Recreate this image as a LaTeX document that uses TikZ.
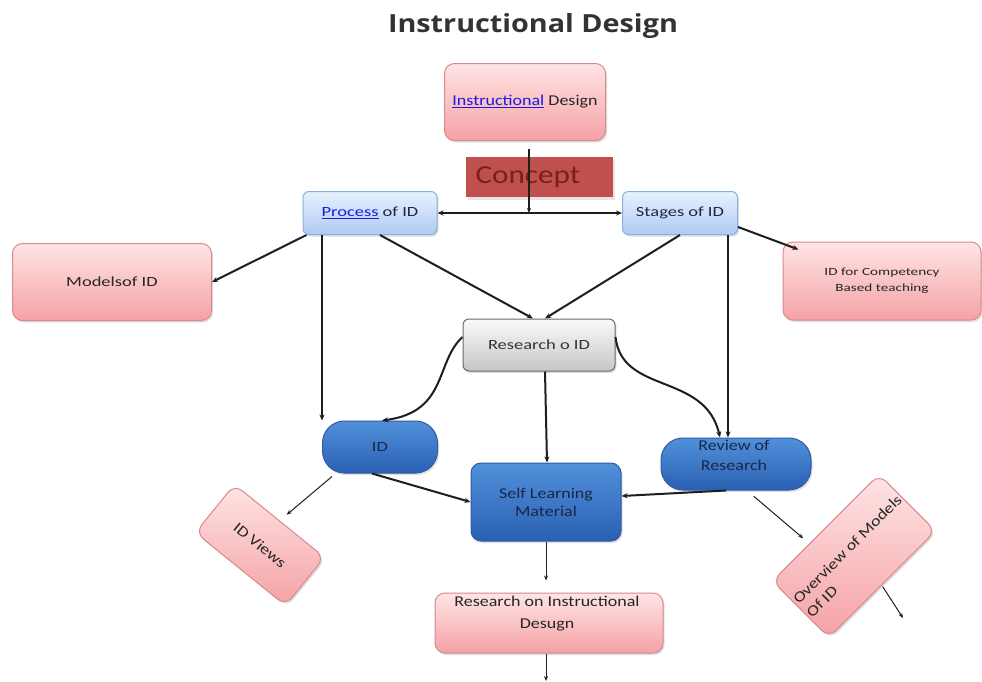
\documentclass[tikz,border=0pt]{standalone}
\usepackage{fontspec}
\setmainfont{Carlito}
\newfontfamily\titlefont[FakeStretch=1.15]{Open Sans}
\newfontfamily\wfa[FakeStretch=1.32]{Carlito}
\newfontfamily\wfb[FakeStretch=1.2]{Carlito}
\newfontfamily\wfc[FakeStretch=1.38]{Carlito}
\usetikzlibrary{arrows.meta,shadows,calc}
\definecolor{pinkT}{HTML}{FFE4E4}
\definecolor{pinkB}{HTML}{F4A2A6}
\definecolor{pinkD}{HTML}{D98A8D}
\definecolor{lbT}{HTML}{E8F1FF}
\definecolor{lbB}{HTML}{AECBF3}
\definecolor{lbD}{HTML}{8CAEDF}
\definecolor{dbT}{HTML}{5190DA}
\definecolor{dbB}{HTML}{2A60B2}
\definecolor{dbD}{HTML}{2B5CA6}
\definecolor{grT}{HTML}{FAFAFA}
\definecolor{grB}{HTML}{C6C6C6}
\definecolor{grD}{HTML}{6A6A6A}
\definecolor{conceptfill}{HTML}{C0504D}
\definecolor{concepttext}{HTML}{7A1F1E}
\definecolor{linkblue}{HTML}{1A1AE0}
\definecolor{linecol}{HTML}{1E1E1E}
\definecolor{titlecol}{HTML}{333333}
\definecolor{navytext}{HTML}{1A2747}
\begin{document}
\begin{tikzpicture}[x=1pt,y=-1pt,
  shadowed/.style={drop shadow={opacity=0.25,shadow xshift=1.5pt,shadow yshift=-2pt}},
  pinkbox/.style={shadowed,draw=pinkD,line width=1pt,rounded corners=10pt,top color=pinkT,bottom color=pinkB,align=center,inner sep=2pt,text=black!85},
  lbluebox/.style={shadowed,draw=lbD,line width=1pt,rounded corners=6pt,top color=lbT,bottom color=lbB,align=center,inner sep=2pt,text=navytext},
  dbluebox/.style={shadowed,draw=dbD,line width=1pt,top color=dbT,bottom color=dbB,align=center,inner sep=2pt,text=navytext},
  graybox/.style={shadowed,draw=grD,line width=1pt,rounded corners=6pt,top color=grT,bottom color=grB,align=center,inner sep=2pt,text=black!80},
  conn/.style={draw=linecol,line width=2pt,-{Stealth[length=6pt,width=5pt]}},
  thinconn/.style={draw=linecol,line width=1pt,-{Stealth[length=5pt,width=4pt]}}
]
\useasboundingbox[fill=white] (0,0) rectangle (982,681);

% title
\node[text=titlecol,font=\titlefont\bfseries\fontsize{25}{30}\selectfont] (title) at (533,26) {Instructional Design};

% nodes
\node[pinkbox,minimum width=161pt,minimum height=77pt,font=\wfb\fontsize{15}{17}\selectfont] (idd) at (525,102) {\textcolor{linkblue}{\underline{Instructional}} Design};
\node[fill=conceptfill,minimum width=147pt,minimum height=40pt,text width=127pt,inner xsep=10pt,inner ysep=0pt,align=left,text=concepttext,font=\wfb\fontsize{26}{28}\selectfont,drop shadow={opacity=0.2,shadow xshift=2pt,shadow yshift=-3pt}] (con) at (539,177) {Concept};
\node[lbluebox,minimum width=134pt,minimum height=43pt,font=\wfa\fontsize{14}{16}\selectfont] (proc) at (370,213) {\textcolor{linkblue}{\underline{Process}} of ID};
\node[lbluebox,minimum width=115pt,minimum height=43pt,font=\wfa\fontsize{14}{16}\selectfont] (stag) at (680,213) {Stages of ID};
\node[pinkbox,minimum width=199pt,minimum height=77pt,font=\wfa\fontsize{14}{16}\selectfont] (mod) at (112,282) {Modelsof ID};
\node[pinkbox,minimum width=198pt,minimum height=78pt,font=\wfc\fontsize{11}{16}\selectfont] (comp) at (882,281) {ID for Competency\\Based teaching};
\node[graybox,minimum width=152pt,minimum height=52pt,font=\wfa\fontsize{14}{16}\selectfont] (res) at (539,345) {Research o ID};
\node[dbluebox,rounded corners=22pt,minimum width=115pt,minimum height=52pt,font=\wfa\fontsize{14}{16}\selectfont] (id) at (380,447) {ID};
\node[dbluebox,rounded corners=10pt,minimum width=150pt,minimum height=78pt,font=\wfb\fontsize{15}{18}\selectfont] (slm) at (546,502) {Self Learning\\Material};
\node[dbluebox,rounded corners=22pt,minimum width=150pt,minimum height=52pt] (rev) at (736,464) {};
\node[text=navytext,align=center,font=\wfb\fontsize{15}{20}\selectfont] (revtxt) at (734,455) {Review of\\Research};
\node[pinkbox,rotate=-39,minimum width=116pt,minimum height=62pt,font=\wfb\fontsize{15}{17}\selectfont] (idv) at (260,545) {ID Views};
\node[pinkbox,rotate=45,minimum width=146pt,minimum height=80pt,align=left,font=\wfb\fontsize{15}{19}\selectfont] (ovw) at (854,556) {Overview of Models\\Of ID};
\node[pinkbox,minimum width=228pt,minimum height=60pt] (rid) at (549,623) {};
\node[text=black!85,align=center,font=\wfb\fontsize{15}{22}\selectfont] (ridtxt) at (547,614) {Research on Instructional\\Desugn};

% free ends
\coordinate (j) at (529,213);
\coordinate (ovwout) at (903,618);
\coordinate (ridout) at (546,681);

% connectors
\draw[draw=linecol,line width=2pt,-{Stealth[length=5pt,width=4pt]}] ([yshift=-8pt]idd.south -| j) -- (j);
\draw[conn] (j) -- (proc.east);
\draw[conn] (j) -- (stag.west);
\draw[conn] ([xshift=4pt]proc.south west) -- (mod.east);
\draw[conn] ([xshift=-48pt]proc.south) -- ([xshift=-48pt]proc.south |- id.north);
\draw[conn] ([xshift=10pt]proc.south) -- ([xshift=-6pt]res.north);
\draw[conn] (stag.south) -- ([xshift=6pt]res.north);
\draw[conn] ([yshift=8pt]stag.south east) -- ([xshift=16pt,yshift=-8pt]comp.north west);
\draw[conn] ([xshift=48pt]stag.south) -- ([xshift=48pt]stag.south |- rev.north);
\draw[conn] ([yshift=8pt]res.west) .. controls (435,362) and (448,412) .. ([xshift=2pt]id.north);
\draw[conn] ([yshift=8pt]res.east) .. controls (622,395) and (705,372) .. ([xshift=-16pt]rev.north);
\draw[conn] ([xshift=6pt]res.south) -- ([xshift=1pt]slm.north);
\draw[conn] ([xshift=-8pt]id.south) -- (slm.west);
\draw[conn] ([xshift=-10pt]rev.south) -- ([yshift=6pt]slm.east);
\draw[thinconn,shorten >=9pt] ([xshift=-48pt,yshift=-3pt]id.south) -- (idv.north);
\draw[thinconn,shorten <=9pt,shorten >=8pt] ([xshift=11pt]rev.south) -- ($(ovw.north west)!0.7!(ovw.north)$);
\draw[thinconn] ([yshift=-2pt]ovw.south) -- (ovwout);
\draw[thinconn,shorten >=12pt] (slm.south) -- (slm.south |- rid.north);
\draw[thinconn] (rid.south -| ridout) -- (ridout);
\end{tikzpicture}
\end{document}
